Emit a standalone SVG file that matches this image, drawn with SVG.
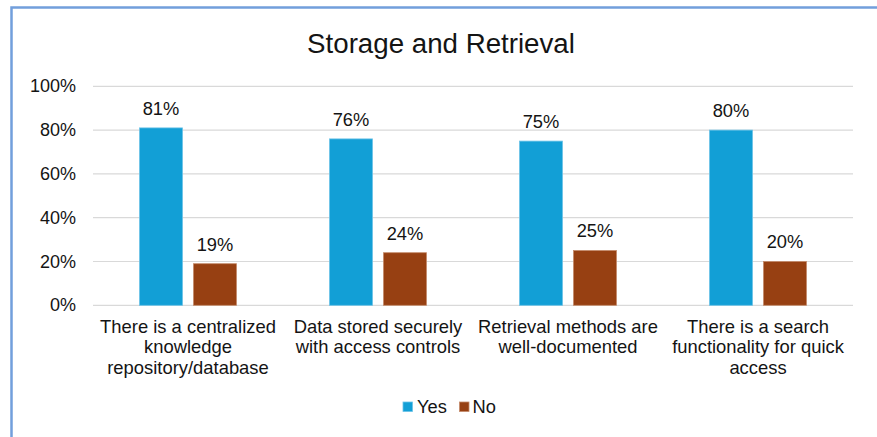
<svg xmlns="http://www.w3.org/2000/svg" width="877" height="437" viewBox="0 0 877 437">
  <style>
    text { font-family: "Liberation Sans", Arial, sans-serif; fill: #141414; }
    .title { font-size: 27.7px; text-anchor: middle; }
    .axis { font-size: 18px; text-anchor: end; }
    .val { font-size: 18.3px; text-anchor: middle; }
    .cat { font-size: 18.4px; text-anchor: middle; }
    .leg { font-size: 18.3px; }
    .grid { stroke: #d9d9d9; stroke-width: 1.2; }
    .yes { fill: #129fd6; stroke: #6cc3e8; stroke-width: 0.8; }
    .no { fill: #974012; stroke: #c48a6a; stroke-width: 0.8; }
  </style>

  <!-- chart frame -->
  <rect x="0" y="0" width="877" height="437" fill="#ffffff"/>
  <path d="M11.5 437 V7.5 H877" fill="none" stroke="#729fdc" stroke-width="2.5"/>

  <text class="title" x="441" y="53">Storage and Retrieval</text>

  <!-- gridlines: 0% at y=305.3, 2.19 px per percent -->
  <g id="gridlines">
    <line class="grid" x1="93" y1="86.3" x2="853" y2="86.3"/>
    <line class="grid" x1="93" y1="130.1" x2="853" y2="130.1"/>
    <line class="grid" x1="93" y1="173.9" x2="853" y2="173.9"/>
    <line class="grid" x1="93" y1="217.7" x2="853" y2="217.7"/>
    <line class="grid" x1="93" y1="261.5" x2="853" y2="261.5"/>
    <line class="grid" x1="93" y1="305.3" x2="853" y2="305.3"/>
  </g>

  <g id="y-axis">
    <text class="axis" x="76" y="92.3">100%</text>
    <text class="axis" x="76" y="136.1">80%</text>
    <text class="axis" x="76" y="179.9">60%</text>
    <text class="axis" x="76" y="223.7">40%</text>
    <text class="axis" x="76" y="267.5">20%</text>
    <text class="axis" x="76" y="311.3">0%</text>
  </g>

  <!-- category 1 -->
  <g id="cat-centralized">
    <rect class="yes" x="139.5" y="127.9" width="43" height="177.4"/>
    <rect class="no" x="193.5" y="263.7" width="43" height="41.6"/>
    <text class="val" x="161" y="114.5">81%</text>
    <text class="val" x="215" y="250.5">19%</text>
    <text class="cat" x="188" y="332.5">There is a centralized</text>
    <text class="cat" x="188" y="353">knowledge</text>
    <text class="cat" x="188" y="373.5">repository/database</text>
  </g>

  <!-- category 2 -->
  <g id="cat-secure">
    <rect class="yes" x="329.5" y="138.9" width="43" height="166.4"/>
    <rect class="no" x="383.5" y="252.7" width="43" height="52.6"/>
    <text class="val" x="351" y="125.5">76%</text>
    <text class="val" x="405" y="239.5">24%</text>
    <text class="cat" x="378" y="332.5">Data stored securely</text>
    <text class="cat" x="378" y="353">with access controls</text>
  </g>

  <!-- category 3 -->
  <g id="cat-documented">
    <rect class="yes" x="519.5" y="141.1" width="43" height="164.2"/>
    <rect class="no" x="573.5" y="250.5" width="43" height="54.8"/>
    <text class="val" x="541" y="127.7">75%</text>
    <text class="val" x="595" y="237.3">25%</text>
    <text class="cat" x="568" y="332.5">Retrieval methods are</text>
    <text class="cat" x="568" y="353">well-documented</text>
  </g>

  <!-- category 4 -->
  <g id="cat-search">
    <rect class="yes" x="709.5" y="130.1" width="43" height="175.2"/>
    <rect class="no" x="763.5" y="261.5" width="43" height="43.8"/>
    <text class="val" x="731" y="116.7">80%</text>
    <text class="val" x="785" y="248.3">20%</text>
    <text class="cat" x="758" y="332.5">There is a search</text>
    <text class="cat" x="758" y="353">functionality for quick</text>
    <text class="cat" x="758" y="373.5">access</text>
  </g>

  <!-- legend -->
  <g id="legend">
    <rect class="yes" x="403" y="402" width="9.5" height="9.5"/>
    <text class="leg" x="417" y="412.5">Yes</text>
    <rect class="no" x="459.5" y="402" width="9.5" height="9.5"/>
    <text class="leg" x="472.5" y="412.5">No</text>
  </g>
</svg>
